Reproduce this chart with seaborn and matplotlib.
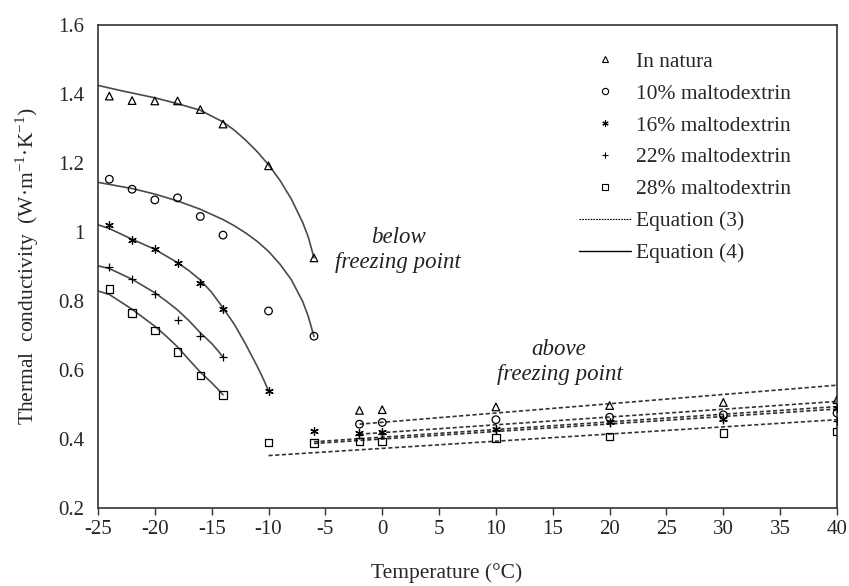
import numpy as np
import pandas as pd
import matplotlib
matplotlib.use("Agg")
import matplotlib.pyplot as plt
import seaborn as sns
from matplotlib.lines import Line2D

# -------------------------------
# Data
labels = ["In natura", "10% maltodextrin", "16% maltodextrin",
          "22% maltodextrin", "28% maltodextrin"]
markers = ["^", "o", (6, 2, 0), "+", "s"]

# measured points, below freezing
t_below = [
    [-24, -22, -20, -18, -16, -14, -10, -6],
    [-24, -22, -20, -18, -16, -14, -10, -6],
    [-24, -22, -20, -18, -16, -14, -10],
    [-24, -22, -20, -18, -16, -14],
    [-24, -22, -20, -18, -16, -14],
]
k_below = [
    [1.394, 1.381, 1.380, 1.380, 1.355, 1.313, 1.192, 0.925],
    [1.153, 1.124, 1.093, 1.099, 1.045, 0.991, 0.771, 0.698],
    [1.021, 0.976, 0.952, 0.911, 0.851, 0.776, 0.540],
    [0.900, 0.865, 0.821, 0.745, 0.700, 0.637],
    [0.834, 0.766, 0.715, 0.653, 0.584, 0.528],
]

# measured points, above freezing
t_above = [
    [-2, 0, 10, 20, 30, 40],
    [-2, 0, 10, 20, 30, 40],
    [-6, -2, 0, 10, 20, 30, 40],
    [-2, 0, 10, 20, 30, 40],
    [-10, -6, -2, 0, 10, 20, 30, 40],
]
k_above = [
    [0.483, 0.485, 0.493, 0.497, 0.506, 0.514],
    [0.443, 0.448, 0.456, 0.463, 0.470, 0.475],
    [0.422, 0.417, 0.420, 0.430, 0.450, 0.458, 0.490],
    [0.412, 0.414, 0.425, 0.446, 0.456, 0.451],
    [0.390, 0.388, 0.393, 0.393, 0.403, 0.407, 0.417, 0.422],
]

# Equation (4) curves
t_eq4 = [
    [-25, -23, -22, -20, -18, -16, -14, -13, -12, -11, -10, -9, -8, -7, -6.5, -6],
    [-25, -22, -20, -18, -16, -14, -13, -12, -11, -10, -9, -8, -7, -6.5, -6],
    [-25, -24, -22, -20, -18, -17, -16, -15, -14, -13, -12, -11, -10.5, -10],
    [-25, -24, -22, -20, -19, -18, -17, -16, -15, -14.5, -14],
    [-25, -24, -22, -20, -19, -18, -17, -16, -15, -14.5, -14],
]
k_eq4 = [
    [1.425, 1.410, 1.403, 1.389, 1.372, 1.353, 1.319, 1.295, 1.266, 1.233,
     1.195, 1.150, 1.096, 1.028, 0.985, 0.925],
    [1.144, 1.126, 1.110, 1.090, 1.066, 1.036, 1.018, 0.997, 0.973, 0.944,
     0.907, 0.862, 0.799, 0.755, 0.697],
    [1.021, 1.010, 0.979, 0.950, 0.911, 0.888, 0.861, 0.825, 0.780, 0.732,
     0.674, 0.611, 0.577, 0.540],
    [0.902, 0.894, 0.863, 0.824, 0.800, 0.774, 0.743, 0.708, 0.677, 0.658, 0.637],
    [0.829, 0.819, 0.776, 0.727, 0.698, 0.667, 0.630, 0.594, 0.563, 0.546, 0.528],
]

# Equation (3) straight lines, ends
t_eq3 = [[-2, 40], [-2, 40], [-6, 40], [-6, 40], [-10, 40]]
k_eq3 = [[0.443, 0.556], [0.414, 0.509], [0.392, 0.494],
         [0.387, 0.487], [0.352, 0.456]]

x_ticks = list(range(-25, 41, 5))
y_ticks = [0.2, 0.4, 0.6, 0.8, 1.0, 1.2, 1.4, 1.6]
y_tick_labels = ["0.2", "0.4", "0.6", "0.8", "1", "1.2", "1.4", "1.6"]

# -------------------------------
sns.set_style("white")
plt.rcParams["font.family"] = ["Liberation Serif", "DejaVu Serif"]
plt.rcParams["mathtext.fontset"] = "custom"
plt.rcParams["mathtext.rm"] = "Liberation Serif"

fig = plt.figure(figsize=(8.49, 5.86), dpi=100)
ax = fig.add_axes([0.1154, 0.1331, 0.8705, 0.8242])

for i in range(5):
    curve = pd.DataFrame({"T": t_eq4[i], "k": k_eq4[i]})
    sns.lineplot(data=curve, x="T", y="k", ax=ax, color="#4a4a4a",
                 linewidth=1.2, sort=False, estimator=None)
    line3 = pd.DataFrame({"T": t_eq3[i], "k": k_eq3[i]})
    sns.lineplot(data=line3, x="T", y="k", ax=ax, color="#333333",
                 linewidth=1.2, linestyle=(0, (2.5, 1.5)), estimator=None)

for i in range(5):
    pts = pd.DataFrame({"T": t_below[i] + t_above[i],
                        "k": k_below[i] + k_above[i]})
    face = "none" if markers[i] not in ["+", (6, 2, 0)] else "black"
    sns.scatterplot(data=pts, x="T", y="k", ax=ax, marker=markers[i],
                    s=30, facecolors=face, edgecolor="black",
                    color="black", linewidth=0.9, zorder=3)

ax.set_xlim(-25, 40)
ax.set_ylim(0.2, 1.6)
ax.set_xticks(x_ticks)
ax.set_xticklabels([str(t) for t in x_ticks])
ax.set_yticks(y_ticks)
ax.set_yticklabels(y_tick_labels)
ax.tick_params(axis="x", direction="out", length=5, width=1, labelsize=15,
               bottom=True, color="#333333")
ax.tick_params(axis="y", length=0, labelsize=15, pad=10)
for sp in ax.spines.values():
    sp.set_color("#333333")
    sp.set_linewidth(1.2)

ax.set_xlabel("Temperature (°C)", fontsize=15.5)
ax.xaxis.set_label_coords(0.472, -0.115)
ax.set_ylabel("Thermal  conductivity  (W·m$^{-1}$·K$^{-1}$)",
              fontsize=15.5, labelpad=12)

ax.text(1.4, 0.985, "below", style="italic", fontsize=16.5,
        ha="center", va="center", color="#222222")
ax.text(1.4, 0.912, "freezing point", style="italic", fontsize=16.5,
        ha="center", va="center", color="#222222")
ax.text(15.5, 0.66, "above", style="italic", fontsize=16.5,
        ha="center", va="center", color="#222222")
ax.text(15.6, 0.587, "freezing point", style="italic", fontsize=16.5,
        ha="center", va="center", color="#222222")

handles = []
for i in range(5):
    face = "none" if markers[i] not in ["+", (6, 2, 0)] else "black"
    handles.append(Line2D([], [], linestyle="none", marker=markers[i],
                          markersize=4.5, markerfacecolor=face,
                          markeredgecolor="black", markeredgewidth=0.8))
handles.append(Line2D([], [], color="black", linewidth=0.8,
                      linestyle=(0, (1.5, 1))))
handles.append(Line2D([], [], color="black", linewidth=1.0))
ax.legend(handles, labels + ["Equation (3)", "Equation (4)"],
          loc="upper left", bbox_to_anchor=(0.625, 0.985), frameon=False,
          fontsize=15.5, handlelength=2.4, handletextpad=0.25,
          labelspacing=0.55)

fig.savefig("out.png", dpi=100)
